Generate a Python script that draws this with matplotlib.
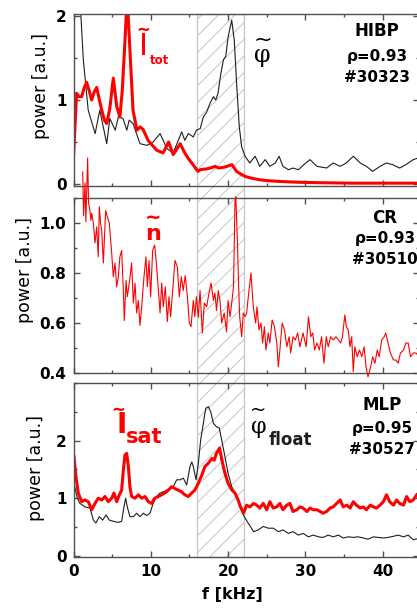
import matplotlib
matplotlib.use("Agg")
import matplotlib.pyplot as plt
import matplotlib.transforms as mtransforms
from matplotlib.patches import Rectangle
from matplotlib.ticker import MultipleLocator

# ---------------- data ----------------
# HIBP, rho = 0.93, #30323 : potential (black) and total current (red)
hibp_phi_f = [0.6, 0.84, 1.27, 1.9, 2.8, 3.4, 4.3, 4.7, 5.4, 5.8, 6.4, 6.9, 7.2, 7.7, 8.6, 9.5,
              10.3, 11.2, 12.1, 12.9, 14.0, 14.4, 14.85, 15.5, 15.9, 16.4, 16.8, 17.2, 17.66,
              18.1, 18.4, 18.7, 19.0, 19.4, 19.7, 20.0, 20.47, 20.8, 21.1, 21.45, 21.76, 22.2,
              22.8, 23.5, 24.1, 24.8, 25.4, 26.1, 26.6, 27.1, 27.8, 28.4, 29.1, 29.8, 30.6,
              31.5, 32.75, 33.6, 34.5, 35.3, 36.2, 37.1, 37.9, 38.7, 39.65, 40.5, 41.3, 42.2,
              43.0, 43.96, 44.6]
hibp_phi_p = [3.0, 2.2, 1.48, 0.88, 0.6, 0.88, 0.48, 0.78, 0.64, 0.8, 0.78, 0.64, 0.76, 0.72,
              0.48, 0.46, 0.5, 0.6, 0.42, 0.37, 0.62, 0.52, 0.6, 0.56, 0.64, 0.66, 0.8, 0.85,
              0.96, 1.04, 1.0, 1.08, 1.28, 1.48, 1.52, 1.75, 1.95, 1.71, 1.2, 0.68, 0.44, 0.33,
              0.25, 0.33, 0.21, 0.29, 0.21, 0.25, 0.33, 0.21, 0.17, 0.19, 0.17, 0.23, 0.29,
              0.21, 0.19, 0.25, 0.21, 0.25, 0.33, 0.25, 0.21, 0.15, 0.21, 0.25, 0.23, 0.19,
              0.23, 0.29, 0.31]

hibp_itot_f = [0.0, 0.2, 0.4, 0.7, 1.06, 1.4, 1.7, 2.0, 2.35, 2.7, 3.0, 3.3, 3.65, 4.0, 4.3,
               4.7, 5.15, 5.6, 6.0, 6.3, 6.6, 6.85, 7.05, 7.3, 7.7, 8.2, 8.6, 9.0, 9.65, 10.2,
               10.8, 11.6, 12.3, 12.9, 13.4, 13.8, 14.4, 14.8, 15.3, 16.1, 16.4, 17.2, 17.7,
               18.3, 18.8, 19.5, 20.5, 21.1, 21.6, 22.2, 23.0, 24.1, 25.0, 26.7, 29.3, 32.0,
               36.0, 40.0, 44.6]
hibp_itot_p = [0.32, 0.7, 1.08, 1.04, 1.04, 1.15, 1.21, 1.12, 1.0, 1.1, 1.15, 1.02, 0.88, 0.76,
               0.72, 0.9, 1.26, 0.92, 0.8, 1.1, 1.6, 2.05, 2.05, 1.6, 0.88, 0.64, 0.68, 0.65,
               0.52, 0.46, 0.4, 0.37, 0.5, 0.35, 0.42, 0.48, 0.37, 0.31, 0.25, 0.15, 0.17, 0.18,
               0.19, 0.21, 0.19, 0.2, 0.23, 0.15, 0.12, 0.09, 0.07, 0.05, 0.04, 0.03, 0.02,
               0.015, 0.01, 0.01, 0.01]

# CR, rho = 0.93, #30510 : density fluctuations
cr_n_f = [1.19, 1.3, 1.49, 1.6, 1.83, 1.95, 2.13, 2.25, 2.35, 2.57, 2.78, 3.0, 3.2, 3.34, 3.5,
          3.65, 3.86, 4.16, 4.38, 4.63, 4.94, 5.15, 5.37, 5.59, 5.8, 6.0, 6.23, 6.45, 6.57,
          6.8, 6.96, 7.22, 7.52, 7.74, 7.96, 8.17, 8.39, 8.6, 8.82, 9.12, 9.38, 9.55, 9.77,
          9.98, 10.24, 10.5, 10.76, 10.98, 11.2, 11.41, 11.62, 11.88, 12.14, 12.35, 12.57,
          12.83, 13.13, 13.43, 13.69, 13.95, 14.2, 14.45, 14.75, 14.98, 15.2, 15.5, 15.7,
          15.9, 16.15, 16.37, 16.67, 16.93, 17.23, 17.53, 17.8, 18.1, 18.3, 18.5, 18.73,
          18.95, 19.17, 19.5, 19.8, 20.0, 20.25, 20.47, 20.7, 20.9, 21.0, 21.2, 21.37, 21.5,
          21.76, 21.97, 22.2, 22.4, 22.7, 22.96, 23.26, 23.57, 23.74, 24.0, 24.26, 24.47,
          24.7, 24.9, 25.2, 25.4, 25.7, 26.0, 26.3, 26.5, 26.7, 27.0, 27.3, 27.6, 27.9, 28.1,
          28.4, 28.7, 29.0, 29.3, 29.7, 30.1, 30.4, 30.7, 30.95, 31.2, 31.5, 31.8, 32.1,
          32.4, 32.7, 32.96, 33.27, 33.6, 33.96, 34.26, 34.57, 34.8, 35.1, 35.3, 35.55,
          35.77, 35.99, 36.2, 36.4, 36.7, 37.0, 37.3, 37.6, 37.84, 38.1, 38.45, 38.7, 39.0,
          39.3, 39.56, 39.87, 40.2, 40.4, 40.7, 41.0, 41.4, 41.7, 42.0, 42.3, 42.7, 43.0,
          43.3, 43.6, 43.96, 44.3, 44.6]
cr_n_p = [1.205, 1.03, 1.16, 1.005, 1.26, 1.08, 1.05, 1.01, 1.04, 1.0, 0.92, 0.985, 0.865,
          1.065, 1.0, 0.97, 0.84, 1.05, 1.025, 1.0, 0.88, 0.785, 0.84, 0.745, 0.785, 0.865,
          0.89, 0.73, 0.61, 0.77, 0.705, 0.76, 0.84, 0.68, 0.76, 0.64, 0.69, 0.59, 0.665,
          0.785, 0.865, 0.745, 0.85, 0.705, 0.89, 0.912, 0.825, 0.73, 0.64, 0.76, 0.665,
          0.745, 0.605, 0.705, 0.625, 0.73, 0.85, 0.825, 0.705, 0.785, 0.73, 0.79, 0.7, 0.6,
          0.585, 0.69, 0.625, 0.705, 0.625, 0.73, 0.56, 0.68, 0.665, 0.72, 0.76, 0.69, 0.72,
          0.65, 0.73, 0.69, 0.6, 0.64, 0.565, 0.69, 0.625, 0.68, 0.745, 1.09, 1.105, 0.93,
          0.745, 0.625, 0.545, 0.64, 0.625, 0.64, 0.73, 0.8, 0.665, 0.6, 0.665, 0.572, 0.6,
          0.52, 0.585, 0.492, 0.56, 0.52, 0.612, 0.585, 0.52, 0.425, 0.492, 0.6, 0.572, 0.505,
          0.545, 0.48, 0.545, 0.532, 0.56, 0.505, 0.56, 0.505, 0.625, 0.545, 0.56, 0.492,
          0.52, 0.492, 0.545, 0.439, 0.545, 0.505, 0.545, 0.532, 0.545, 0.532, 0.52, 0.545,
          0.632, 0.585, 0.572, 0.505, 0.545, 0.405, 0.505, 0.465, 0.492, 0.465, 0.505, 0.425,
          0.385, 0.425, 0.465, 0.439, 0.492, 0.465, 0.532, 0.545, 0.56, 0.52, 0.48, 0.452,
          0.452, 0.439, 0.48, 0.492, 0.52, 0.52, 0.465, 0.48, 0.48, 0.47]

# MLP, rho = 0.95, #30527 : floating potential (black) and ion saturation current (red)
mlp_phi_f = [0.07, 0.5, 0.84, 1.49, 2.13, 2.57, 2.9, 3.34, 3.78, 4.2, 4.64, 5.15, 5.8, 6.23,
             6.53, 6.75, 6.96, 7.3, 7.74, 8.17, 8.6, 9.03, 9.47, 9.9, 10.3, 10.76, 11.2, 11.6,
             12.06, 12.5, 12.9, 13.35, 13.8, 14.2, 14.64, 15.07, 15.3, 15.5, 15.85, 16.15,
             16.45, 16.8, 17.1, 17.45, 17.75, 18.1, 18.5, 18.86, 19.17, 19.6, 20.0, 20.47,
             20.9, 21.3, 21.76, 22.0, 22.6, 23.3, 23.9, 24.55, 25.2, 25.85, 26.5, 27.1, 27.8,
             28.4, 29.1, 29.7, 30.4, 31.0, 31.7, 32.3, 32.96, 33.6, 34.26, 34.9, 35.55, 36.2,
             36.8, 37.5, 38.1, 38.8, 39.4, 40.1, 40.7, 41.4, 42.0, 42.7, 43.3, 43.96, 44.6]
mlp_phi_p = [1.25, 1.0, 0.91, 0.85, 0.83, 0.62, 0.57, 0.68, 0.62, 0.71, 0.62, 0.6, 0.58, 0.6,
             0.85, 1.0, 0.85, 0.68, 0.68, 0.74, 0.68, 0.74, 0.7, 0.74, 0.91, 1.03, 1.09, 1.11,
             1.14, 1.17, 1.2, 1.32, 1.32, 1.35, 1.23, 1.55, 1.63, 1.55, 1.32, 1.6, 2.01, 2.3,
             2.56, 2.59, 2.5, 2.3, 2.24, 2.22, 2.01, 1.72, 1.43, 1.2, 1.09, 0.94, 0.8, 0.7,
             0.57, 0.42, 0.45, 0.51, 0.48, 0.48, 0.42, 0.45, 0.39, 0.42, 0.36, 0.39, 0.33,
             0.36, 0.33, 0.32, 0.36, 0.33, 0.36, 0.31, 0.33, 0.32, 0.33, 0.31, 0.29, 0.33,
             0.32, 0.31, 0.32, 0.34, 0.36, 0.33, 0.36, 0.28, 0.3]

mlp_isat_f = [0.07, 0.32, 0.62, 1.06, 1.49, 1.92, 2.35, 2.78, 3.2, 3.65, 4.07, 4.5, 4.94, 5.24,
              5.59, 5.93, 6.23, 6.45, 6.66, 6.88, 7.1, 7.3, 7.52, 7.96, 8.39, 8.82, 9.25, 9.68,
              10.1, 10.5, 10.97, 11.4, 11.8, 12.27, 12.7, 13.1, 13.56, 14.0, 14.4, 14.85, 15.3,
              15.7, 16.15, 16.6, 17.0, 17.4, 17.9, 18.2, 18.5, 18.9, 19.2, 19.6, 20.0, 20.5,
              20.9, 21.3, 21.6, 22.0, 22.4, 22.8, 23.3, 23.7, 24.1, 24.55, 25.0, 25.4, 25.85,
              26.3, 26.7, 27.1, 27.6, 28.0, 28.4, 28.9, 29.3, 29.7, 30.2, 30.6, 31.0, 31.5,
              31.9, 32.3, 32.75, 33.2, 33.6, 34.05, 34.5, 34.9, 35.35, 35.8, 36.2, 36.6, 37.1,
              37.5, 37.9, 38.4, 38.8, 39.2, 39.65, 40.1, 40.5, 40.9, 41.4, 41.8, 42.2, 42.7,
              43.1, 43.5, 43.96, 44.4]
mlp_isat_p = [1.72, 1.37, 1.09, 0.94, 0.97, 0.94, 0.8, 0.91, 1.0, 0.97, 1.03, 0.94, 1.0, 1.09,
              0.94, 1.06, 1.14, 1.49, 1.75, 1.78, 1.55, 1.2, 1.03, 1.0, 1.06, 1.0, 1.03, 0.94,
              0.91, 1.0, 1.03, 1.06, 1.09, 1.14, 1.2, 1.17, 1.14, 1.11, 1.06, 1.03, 1.09, 1.14,
              1.26, 1.4, 1.55, 1.6, 1.69, 1.66, 1.78, 1.87, 1.66, 1.43, 1.26, 1.14, 1.09, 0.97,
              0.85, 0.74, 0.88, 0.85, 0.91, 0.88, 0.83, 0.91, 0.8, 0.94, 0.83, 0.85, 0.91, 0.8,
              0.88, 0.91, 0.77, 0.8, 0.85, 0.83, 0.77, 0.83, 0.8, 0.8, 0.77, 0.74, 0.77, 0.83,
              0.85, 0.91, 0.97, 0.85, 0.88, 0.83, 0.94, 0.88, 0.83, 0.85, 0.8, 0.88, 0.85, 0.83,
              0.88, 0.94, 1.06, 0.94, 0.88, 0.97, 0.91, 0.88, 1.03, 0.94, 0.97, 1.06]

band_f = (16.0, 22.0)          # shaded frequency band
x_ticks = [0, 10, 20, 30, 40]

# ---------------- figure ----------------
W, H = 417, 609
plt.rcParams["hatch.linewidth"] = 0.7
fig = plt.figure(figsize=(W / 100, H / 100), dpi=100)
fig.patch.set_facecolor("white")

RED = "#ff0000"
BLK = "#1e1e1e"
SPINE = "#505050"


def fx(x):
    return x / W


def fy(y):
    return 1 - y / H


def add_panel(top, bottom):
    left, right = 73.5, 419.0
    return fig.add_axes([fx(left), fy(bottom), (right - left) / W, (bottom - top) / H])


ax1 = add_panel(14, 186)
ax2 = add_panel(198, 373)
ax3 = add_panel(383, 557)

for ax in (ax1, ax2, ax3):
    ax.patch.set_visible(False)
    ax.set_xlim(0, 44.7)
    ax.xaxis.set_major_locator(MultipleLocator(10))
    ax.xaxis.set_minor_locator(MultipleLocator(5))
    ax.tick_params(which="both", direction="in", top=True, right=True,
                   color=SPINE, width=1.0)
    ax.tick_params(which="major", length=4)
    ax.tick_params(which="minor", length=2.5)
    ax.tick_params(axis="y", labelsize=11, pad=5)
    ax.tick_params(axis="x", labelsize=11, pad=5)
    for s in ax.spines.values():
        s.set_color(SPINE)
        s.set_linewidth(1.0)

# hatched band spanning all three panels
trans = mtransforms.blended_transform_factory(ax3.transData, fig.transFigure)
band = Rectangle((band_f[0], fy(557)), band_f[1] - band_f[0], fy(14) - fy(557),
                 transform=trans, facecolor="none", edgecolor="#c4c4c4",
                 hatch="//", linewidth=0.9, zorder=-1)
fig.add_artist(band)

# panel 1
ax1.plot(hibp_phi_f, hibp_phi_p, color=BLK, lw=0.8)
ax1.plot(hibp_itot_f, hibp_itot_p, color=RED, lw=2.2)
ax1.set_ylim(-0.024, 2.024)
ax1.set_yticks([0, 1, 2])
ax1.yaxis.set_minor_locator(MultipleLocator(0.5))
ax1.tick_params(axis="x", labelbottom=False)

# panel 2
ax2.plot(cr_n_f, cr_n_p, color=RED, lw=0.8, clip_on=False, zorder=5)
ax2.set_ylim(0.4, 1.1)
ax2.set_yticks([0.4, 0.6, 0.8, 1.0])
ax2.set_yticklabels(["0.4", "0.6", "0.8", "1.0"])
ax2.yaxis.set_minor_locator(MultipleLocator(0.1))
ax2.tick_params(axis="x", labelbottom=False)

# panel 3
ax3.plot(mlp_phi_f, mlp_phi_p, color=BLK, lw=0.8)
ax3.plot(mlp_isat_f, mlp_isat_p, color=RED, lw=2.2)
ax3.set_ylim(-0.02, 3.0)
ax3.set_yticks([0, 1, 2])
ax3.yaxis.set_minor_locator(MultipleLocator(0.5))
ax3.set_xticks(x_ticks)

for ax in (ax1, ax2, ax3):
    for lab in ax.get_xticklabels() + ax.get_yticklabels():
        lab.set_fontweight("bold")

# axis labels
for xc, yc in ((41, 86), (25, 270), (36, 468)):
    fig.text(fx(xc), fy(yc), "power [a.u.]", rotation=90, ha="center", va="center",
             fontsize=12.5)
fig.text(fx(232.5), fy(595), "f [kHz]", ha="center", va="center", fontsize=11.5,
         fontweight="bold")


# diagnostic annotations
def info(x, ys, lines):
    sizes = (12, 11, 11)
    for y, s, fs in zip(ys, lines, sizes):
        fig.text(fx(x), fy(y), s, ha="center", va="center", fontsize=fs,
                 fontweight="bold")


info(377, (31, 56, 78), ("HIBP", "ρ=0.93", "#30323"))
info(385, (218, 238, 260), ("CR", "ρ=0.93", "#30510"))
info(382, (405, 428, 449), ("MLP", "ρ=0.95", "#30527"))


# signal labels: letter with a wave accent drawn above it
def tilde(x, y, size, color, weight="bold"):
    fig.text(fx(x), fy(y), "~", ha="center", va="center", fontsize=size,
             color=color, fontweight=weight)


# panel 1: I_tot and phi
fig.text(fx(143.5), fy(55), "I", ha="center", va="baseline", fontsize=22, color=RED)
tilde(143.5, 30, 12, RED)
fig.text(fx(150), fy(64), "tot", ha="left", va="baseline", fontsize=8.5, color=RED,
         fontweight="bold")
fig.text(fx(262.5), fy(62), "φ", ha="center", va="baseline", fontsize=17, color="black",
         family="DejaVu Serif")
tilde(263, 39.5, 16, "black", "normal")

# panel 2: n
fig.text(fx(153.5), fy(240), "n", ha="center", va="baseline", fontsize=16, color=RED,
         fontweight="bold")
tilde(153.5, 217.5, 14, RED)

# panel 3: I_sat and phi_float
fig.text(fx(122), fy(433), "I", ha="center", va="baseline", fontsize=20, color=RED,
         fontweight="bold")
tilde(118.5, 409.5, 12, RED)
fig.text(fx(125.5), fy(443), "sat", ha="left", va="baseline", fontsize=15, color=RED,
         fontweight="bold")
fig.text(fx(259), fy(433), "φ", ha="center", va="baseline", fontsize=16, color="black",
         family="DejaVu Serif")
tilde(258.5, 410, 14, "black", "normal")
fig.text(fx(269), fy(445), "float", ha="left", va="baseline", fontsize=12, color=BLK,
         fontweight="bold")

fig.savefig("out.png", dpi=100)
